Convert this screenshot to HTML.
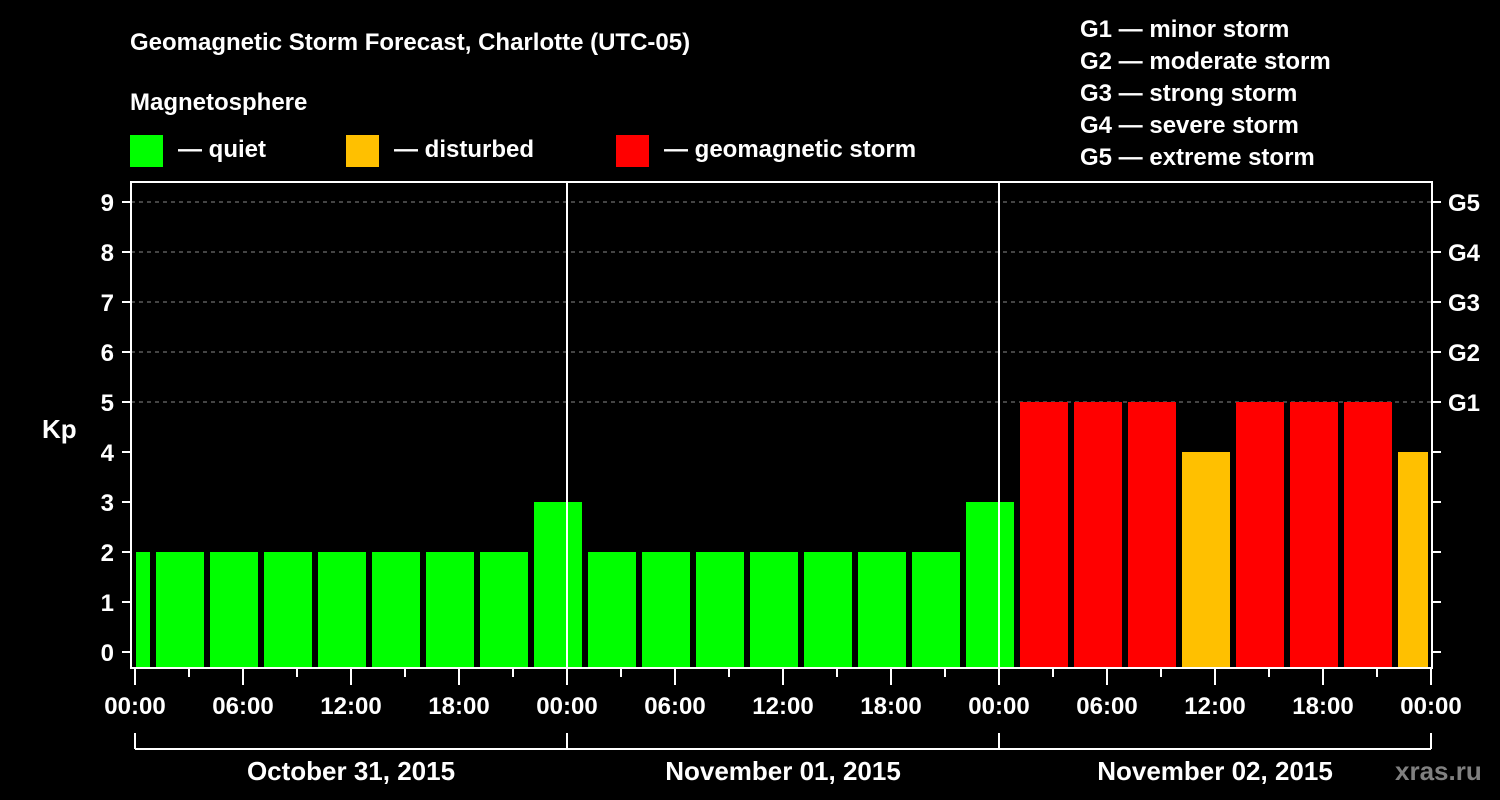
<!DOCTYPE html>
<html><head><meta charset="utf-8"><style>
html,body{margin:0;padding:0;background:#000;width:1500px;height:800px;overflow:hidden}
svg text{font-family:"Liberation Sans",sans-serif;font-weight:bold;fill:#fff}
</style></head><body>
<svg id="chart" width="1500" height="800" viewBox="0 0 1500 800" xmlns="http://www.w3.org/2000/svg">
<rect width="1500" height="800" fill="#000"/>
<text x="130" y="50" font-size="24">Geomagnetic Storm Forecast, Charlotte (UTC-05)</text>
<text x="130" y="110" font-size="24">Magnetosphere</text>
<g><rect x="130" y="135" width="33" height="32" fill="#00ff00"/><text x="178" y="157" font-size="24">— quiet</text></g>
<g><rect x="346" y="135" width="33" height="32" fill="#ffc000"/><text x="394" y="157" font-size="24">— disturbed</text></g>
<g><rect x="616" y="135" width="33" height="32" fill="#ff0000"/><text x="664" y="157" font-size="24">— geomagnetic storm</text></g>
<g font-size="24">
<text x="1080" y="37">G1 — minor storm</text>
<text x="1080" y="69">G2 — moderate storm</text>
<text x="1080" y="101">G3 — strong storm</text>
<text x="1080" y="133">G4 — severe storm</text>
<text x="1080" y="165">G5 — extreme storm</text>
</g>
<text x="42" y="438" font-size="26">Kp</text>
<text x="1395" y="780" font-size="26" style="fill:#808080">xras.ru</text>
<g id="grid"></g><g id="bars"></g><g id="axes"></g>
</svg>
<script>
const kpValues = [2, 2,2,2,2,2,2,2,3, 2,2,2,2,2,2,2,3, 5,5,5,4,5,5,5,4];
const slotStartHours = [-2,1,4,7,10,13,16,19,22,25,28,31,34,37,40,43,46,49,52,55,58,61,64,67,70];
const yTicks = [0,1,2,3,4,5,6,7,8,9];
const gLabels = ["G1","G2","G3","G4","G5"];
const gLevels = [5,6,7,8,9];
const xTickLabels = ["00:00","06:00","12:00","18:00"];
const dayLabels = ["October 31, 2015","November 01, 2015","November 02, 2015"];

const NS="http://www.w3.org/2000/svg";
const X0=135, PXH=18, L=131, R=1432, T=182, B=668;
const xs=h=>X0+h*PXH;
const ys=v=>652-v*50;
function mk(tag,attrs,parent){const e=document.createElementNS(NS,tag);for(const k in attrs)e.setAttribute(k,attrs[k]);parent.appendChild(e);return e;}
const grid=document.getElementById('grid'),bars=document.getElementById('bars'),axes=document.getElementById('axes');
function color(v){return v>=5?'#ff0000':(v>=4?'#ffc000':'#00ff00');}
yTicks.forEach(v=>{
  if(v>=5){const g=mk('line',{x1:L,x2:R,y1:ys(v),y2:ys(v),stroke:'#888','stroke-width':1,'stroke-dasharray':'4,4'},grid);
  
  }
});
kpValues.forEach((v,i)=>{
  let s=Math.max(0,slotStartHours[i]), e=Math.min(72,slotStartHours[i]+3);
  let x1=xs(s)+(slotStartHours[i]>=0?3:1), x2=xs(e)-(slotStartHours[i]+3<=72?3:3);
  const r=mk('rect',{x:x1,y:ys(v),width:x2-x1,height:B-ys(v),fill:color(v)},bars);
  
  
});
// frame
const fr=mk('rect',{x:L,y:T,width:R-L,height:B-T,fill:'none',stroke:'#fff','stroke-width':2},axes);


[1,2].forEach(d=>{const l=mk('line',{x1:xs(24*d),x2:xs(24*d),y1:T,y2:B,stroke:'#fff','stroke-width':2},axes);

});
yTicks.forEach(v=>{
  mk('line',{x1:L-9,x2:L,y1:ys(v),y2:ys(v),stroke:'#fff','stroke-width':2},axes);
  mk('line',{x1:R,x2:R+9,y1:ys(v),y2:ys(v),stroke:'#fff','stroke-width':2},axes);
  const t=mk('text',{x:114,y:ys(v)+9,'font-size':24,'text-anchor':'end'},axes);t.textContent=v;
  
  
});
gLabels.forEach((g,i)=>{const t=mk('text',{x:1448,y:ys(gLevels[i])+9,'font-size':24},axes);t.textContent=g;

});
for(let h=0;h<=72;h+=3){
  const major=h%6===0;
  mk('line',{x1:xs(h),x2:xs(h),y1:B,y2:B+(major?17:9),stroke:'#fff','stroke-width':2},axes);
  if(major){const t=mk('text',{x:xs(h),y:714,'font-size':24,'text-anchor':'middle'},axes);t.textContent=xTickLabels[(h/6)%4];
  
  }
}
mk('line',{x1:xs(0),x2:xs(72),y1:749,y2:749,stroke:'#fff','stroke-width':2},axes);
[0,1,2,3].forEach(d=>mk('line',{x1:xs(24*d),x2:xs(24*d),y1:733,y2:749,stroke:'#fff','stroke-width':2},axes));
dayLabels.forEach((d,i)=>{const t=mk('text',{x:xs(24*i+12),y:780,'font-size':26,'text-anchor':'middle'},axes);t.textContent=d;

});
</script>
</body></html>
